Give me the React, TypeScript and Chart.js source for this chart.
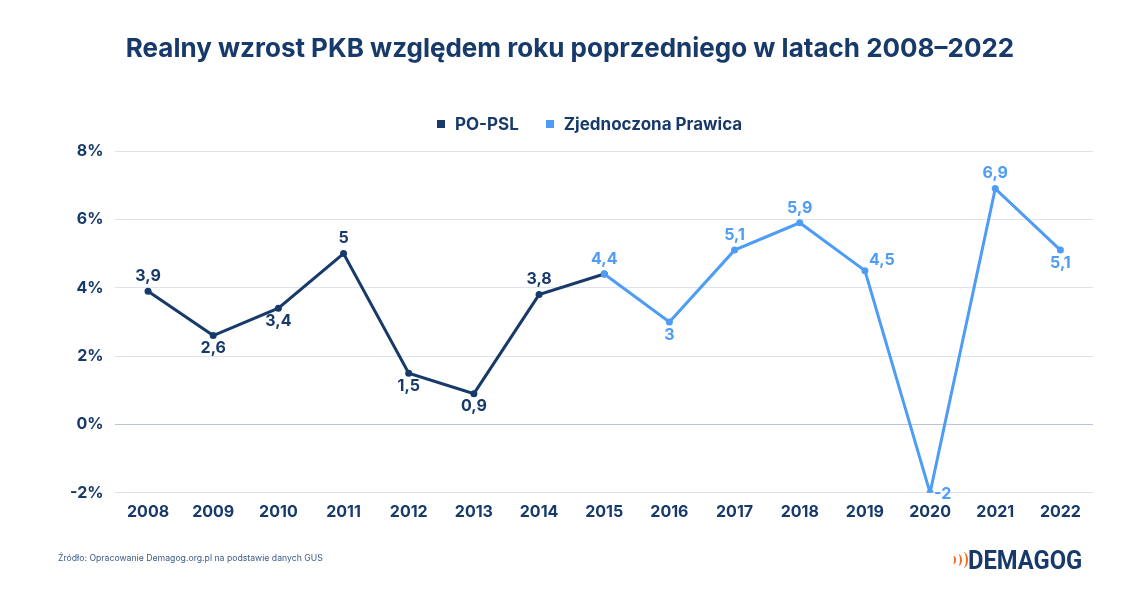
import React, { useEffect, useRef } from "react";
import { Chart, registerables } from "chart.js";

Chart.register(...registerables);

const years = ["2008","2009","2010","2011","2012","2013","2014","2015","2016","2017","2018","2019","2020","2021","2022"];
const poPsl = [3.9, 2.6, 3.4, 5, 1.5, 0.9, 3.8, 4.4, null, null, null, null, null, null, null];
const zp = [null, null, null, null, null, null, null, 4.4, 3, 5.1, 5.9, 4.5, -2, 6.9, 5.1];
const poPslLabelPos = ["top","bottom","bottom","top","bottom","bottom","top","none","","","","","","",""];
const zpLabelPos = ["","","","","","","","top","bottom","top","top","right","right","top","bottom"];
const yTicks = [-2, 0, 2, 4, 6, 8];
const seriesNames = ["PO-PSL", "Zjednoczona Prawica"];
const titleText = "Realny wzrost PKB względem roku poprzedniego w latach 2008–2022";

const NAVY = "#173a6b";
const BLUE = "#4d9cf5";
const FONT = "Inter, 'Noto Sans', sans-serif";

const labelPlugin = {
  id: "pointLabels",
  afterDatasetsDraw(chart: any) {
    const ctx = chart.ctx;
    const positions = [poPslLabelPos, zpLabelPos];
    chart.data.datasets.forEach((ds: any, di: number) => {
      const meta = chart.getDatasetMeta(di);
      meta.data.forEach((pt: any, i: number) => {
        const v = ds.data[i];
        if (v === null || v === undefined) return;
        const pos = positions[di][i];
        if (!pos || pos === "none") return;
        const text = String(v).replace(".", ",");
        ctx.save();
        ctx.font = `700 16px ${FONT}`;
        ctx.fillStyle = ds.borderColor;
        ctx.textBaseline = "middle";
        let x = pt.x, y = pt.y;
        if (pos === "top") { ctx.textAlign = "center"; y = pt.y - 15; }
        else if (pos === "bottom") { ctx.textAlign = "center"; y = pt.y + 13; }
        else { ctx.textAlign = "left"; x = pt.x + 4; y = pt.y - (v > 0 ? 10 : -1); }
        ctx.fillText(text, x, y);
        ctx.restore();
      });
    });
  },
};

function ChartView() {
  const ref = useRef<HTMLCanvasElement>(null);
  useEffect(() => {
    if (!ref.current) return;
    const chart = new Chart(ref.current, {
      type: "line",
      data: {
        labels: years,
        datasets: [
          {
            label: seriesNames[0],
            data: poPsl,
            borderColor: NAVY,
            backgroundColor: NAVY,
            borderWidth: 3,
            pointRadius: 3.5,
            pointBackgroundColor: NAVY,
            pointBorderWidth: 0,
            spanGaps: false,
            order: 2,
          },
          {
            label: seriesNames[1],
            data: zp,
            borderColor: BLUE,
            backgroundColor: BLUE,
            borderWidth: 3,
            pointRadius: 3.5,
            pointBackgroundColor: BLUE,
            pointBorderWidth: 0,
            spanGaps: false,
            order: 1,
          },
        ],
      },
      options: {
        animation: false,
        responsive: false,
        maintainAspectRatio: false,
        layout: { padding: { top: 151, left: 58, right: 47, bottom: 61 } },
        plugins: {
          title: { display: false },
          legend: { display: false },
          tooltip: { enabled: false },
        },
        scales: {
          x: {
            offset: true,
            grid: { display: false, drawTicks: false },
            border: { display: false },
            ticks: {
              color: NAVY,
              padding: 10,
              font: { family: FONT, size: 16, weight: "bold" },
            },
          },
          y: {
            min: yTicks[0],
            max: yTicks[yTicks.length - 1],
            afterBuildTicks: (s: any) => { s.ticks = yTicks.map((v) => ({ value: v })); },
            grid: {
              drawTicks: false,
              lineWidth: 1,
              color: (c: any) => (c.tick && c.tick.value === 0 ? "#b9c4d6" : "#dfe4ec"),
            },
            border: { display: false },
            ticks: {
              color: NAVY,
              padding: 12,
              font: { family: FONT, size: 16, weight: "bold" },
              callback: (v: any) => `${v}%`,
            },
          },
        },
      },
      plugins: [labelPlugin],
    });
    return () => chart.destroy();
  }, []);
  return <canvas ref={ref} width={1140} height={593} style={{ display: "block" }} />;
}

export default function App() {
  const colors = [NAVY, BLUE];
  return (
    <div style={{ position: "relative", width: 1140, height: 593, background: "#fff", fontFamily: FONT }}>
      <style>{`body{margin:0;background:#fff}`}</style>
      <ChartView />
      <div style={{ position: "absolute", left: 0, width: 1140, top: 32, textAlign: "center", fontWeight: 700, fontSize: 26, lineHeight: "32px", color: NAVY }}>
        {titleText}
      </div>
      <div style={{ position: "absolute", left: 437, top: 113, height: 22, display: "flex", alignItems: "center", fontWeight: 700, fontSize: 17, color: NAVY }}>
        {seriesNames.map((n, i) => (
          <div key={n} style={{ display: "flex", alignItems: "center", marginRight: 27 }}>
            <span style={{ display: "inline-block", width: 8, height: 8, background: colors[i], marginRight: 10 }} />
            <span>{n}</span>
          </div>
        ))}
      </div>
      <div style={{ position: "absolute", left: 58, top: 553, fontSize: 8.7, color: "#3b5a88" }}>
        Źródło: Opracowanie Demagog.org.pl na podstawie danych GUS
      </div>
      <div style={{ position: "absolute", left: 952, top: 546, display: "flex", alignItems: "center", height: 28 }}>
        <div style={{ position: "relative", width: 14, height: 16, marginRight: 2 }}>
          {[0, 4, 8].map((o, i) => (
            <div key={i} style={{ position: "absolute", left: o - 2, top: 8 - (4 + i * 2), width: 6 + i * 2, height: 8 + i * 4, borderRight: "2px solid #f26b21", borderRadius: "50%", boxSizing: "border-box" }} />
          ))}
        </div>
        <span style={{ fontFamily: "'Roboto', sans-serif", fontWeight: 700, fontSize: 25, color: NAVY, transform: "scaleX(0.95)", transformOrigin: "left" }}>DEMAGOG</span>
      </div>
    </div>
  );
}
